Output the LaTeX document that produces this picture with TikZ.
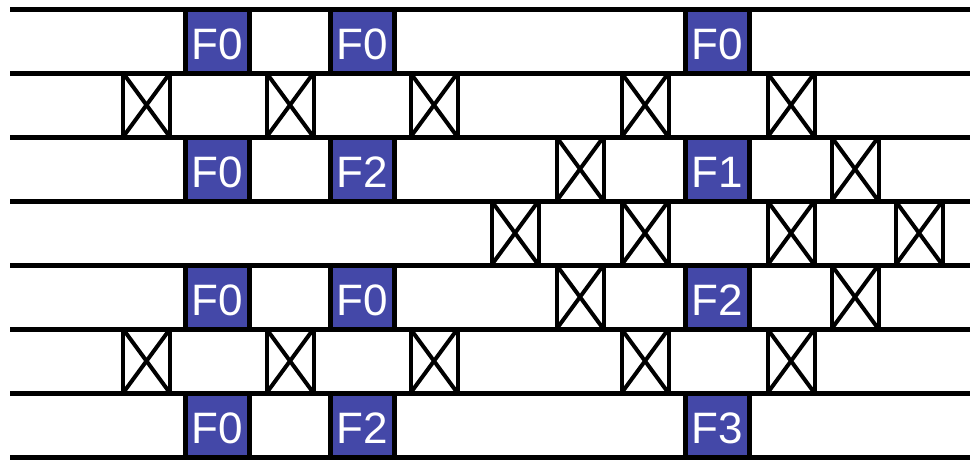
\documentclass[tikz,border=0pt]{standalone}
\usepackage{fontspec}
\setmainfont{Liberation Sans}
\definecolor{fblue}{RGB}{68,72,168}
\begin{document}
\begin{tikzpicture}[x=1pt,y=-1pt,
  fbox/.style={rectangle, draw=black, line width=5pt, fill=fblue, text=white,
    minimum width=64pt, minimum height=64pt, inner sep=0pt,
    text height=36pt, text depth=0pt,
    font=\fontsize{44}{44}\selectfont},
  xbox/.style={rectangle, draw=black, line width=4pt, fill=white,
    minimum width=47pt, minimum height=64pt, inner sep=0pt,
    path picture={\draw[line width=4pt]
      (path picture bounding box.north west) -- (path picture bounding box.south east)
      (path picture bounding box.north east) -- (path picture bounding box.south west);}},
  hline/.style={line width=5pt}]
\useasboundingbox (0,0) rectangle (976,459);
% row 0
\node[fbox] (r0a) at (217.5,41) {F0};
\node[fbox] (r0b) at (362.5,41) {F0};
\node[fbox] (r0c) at (717.5,41) {F0};
% row 1
\foreach \x [count=\i] in {146.5,290,434,645,791}
  \node[xbox] (r1x\i) at (\x,105) {};
% row 2
\node[fbox] (r2a) at (217.5,169) {F0};
\node[fbox] (r2b) at (362.5,169) {F2};
\node[xbox] (r2x1) at (580,169) {};
\node[fbox] (r2c) at (717.5,169) {F1};
\node[xbox] (r2x2) at (855,169) {};
% row 3
\foreach \x [count=\i] in {515,645,791,919}
  \node[xbox] (r3x\i) at (\x,233) {};
% row 4
\node[fbox] (r4a) at (217.5,297) {F0};
\node[fbox] (r4b) at (362.5,297) {F0};
\node[xbox] (r4x1) at (580,297) {};
\node[fbox] (r4c) at (717.5,297) {F2};
\node[xbox] (r4x2) at (855,297) {};
% row 5
\foreach \x [count=\i] in {146.5,290,434,645,791}
  \node[xbox] (r5x\i) at (\x,361) {};
% row 6
\node[fbox] (r6a) at (217.5,425) {F0};
\node[fbox] (r6b) at (362.5,425) {F2};
\node[fbox] (r6c) at (717.5,425) {F3};
% horizontal lines
\foreach \k in {0,...,7}
  \draw[hline] (10,9+64*\k) -- (970,9+64*\k);
\end{tikzpicture}
\end{document}
